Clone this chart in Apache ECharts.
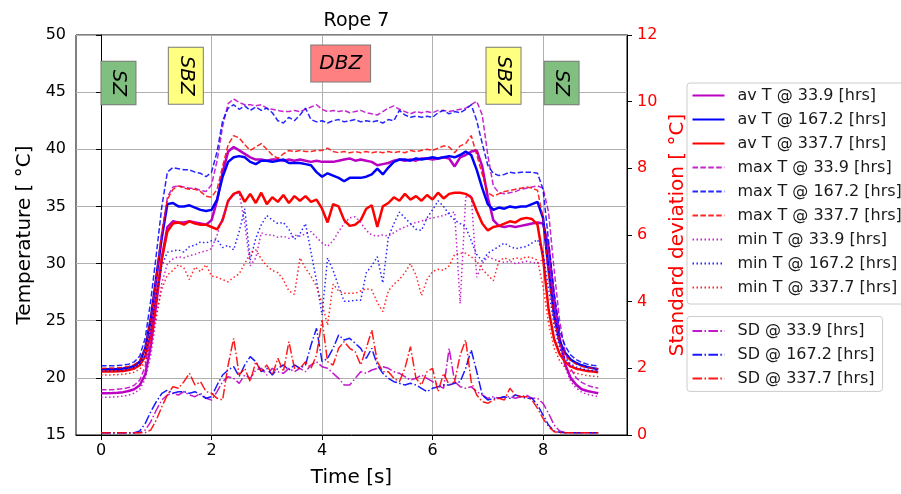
<!DOCTYPE html>
<html><head><meta charset="utf-8">
<script src="https://cdn.jsdelivr.net/npm/echarts@6/dist/echarts.min.js"></script>
<style>html,body{margin:0;padding:0;background:#fff}#c{width:901px;height:494px}</style>
</head><body><div id="c"></div>
<script>
// ---- data ----
const time = [0.0,0.1,0.2,0.3,0.4,0.5,0.6,0.7,0.8,0.9,
1.0,1.1,1.2,1.3,1.4,1.5,1.6,1.7,1.8,1.9,
2.0,2.1,2.2,2.3,2.4,2.5,2.6,2.7,2.8,2.9,
3.0,3.1,3.2,3.3,3.4,3.5,3.6,3.7,3.8,3.9,
4.0,4.1,4.2,4.3,4.4,4.5,4.6,4.7,4.8,4.9,
5.0,5.1,5.2,5.3,5.4,5.5,5.6,5.7,5.8,5.9,
6.0,6.1,6.2,6.3,6.4,6.5,6.6,6.7,6.8,6.9,
7.0,7.1,7.2,7.3,7.4,7.5,7.6,7.7,7.8,7.9,
8.0,8.1,8.2,8.3,8.4,8.5,8.6,8.7,8.8,8.9,
9.0];
const xTicks = [0,2,4,6,8];

const avM = [18.65,18.65,18.67,18.7,18.75,18.85,19.0,19.35,20.3,22.8,
26.5,30.5,33.2,33.7,33.6,33.6,33.7,33.6,33.5,33.4,
33.8,35.5,38.0,39.8,40.2,39.9,39.6,39.3,39.1,39.1,
39.0,39.1,39.1,39.0,39.1,39.0,39.1,39.0,38.9,39.0,
38.9,38.9,38.9,39.0,39.1,39.2,39.0,39.1,39.0,38.9,
38.6,38.7,38.8,39.0,39.1,39.0,39.1,39.0,39.2,39.2,
39.1,39.2,39.3,39.2,38.5,39.3,39.5,39.8,39.9,38.5,
35.8,33.8,33.3,33.2,33.3,33.2,33.3,33.4,33.5,33.6,
33.5,31.5,27.0,23.5,21.2,20.0,19.4,19.0,18.85,18.75,
18.65];
const avB = [20.75,20.75,20.76,20.78,20.82,20.9,21.05,21.4,22.6,25.2,
28.8,32.3,35.2,35.3,35.0,35.0,35.1,34.9,34.7,34.6,
34.7,35.6,37.6,38.9,39.3,39.4,39.3,38.9,38.7,39.0,
39.0,38.9,39.0,39.1,38.8,38.8,38.8,38.7,38.6,38.0,
37.6,37.9,37.7,37.5,37.2,37.5,37.5,37.5,37.6,37.8,
38.3,37.8,38.4,38.9,39.1,39.1,39.0,39.2,39.1,39.2,
39.3,39.2,39.3,39.4,39.3,39.5,39.8,39.5,38.2,36.6,
35.2,34.7,34.9,34.8,35.0,34.9,35.0,35.0,35.2,35.4,
34.0,29.5,25.5,23.2,22.2,21.6,21.3,21.1,20.95,20.85,
20.75];
const avR = [20.55,20.55,20.56,20.58,20.6,20.68,20.82,21.1,21.9,23.8,
27.0,30.4,32.8,33.5,33.6,33.4,33.7,33.5,33.4,33.4,
33.2,33.0,33.8,35.5,36.1,36.3,35.4,36.1,35.3,36.2,
35.2,35.8,35.4,36.0,35.3,35.9,35.5,35.9,35.4,35.6,
34.8,33.6,35.2,35.0,33.8,33.3,33.4,33.8,34.8,35.1,
33.2,35.0,35.3,35.8,35.5,36.1,35.6,35.9,35.5,36.0,
35.6,36.2,35.7,36.1,36.2,36.2,36.1,35.8,34.6,33.5,
32.9,33.2,33.3,33.5,33.7,33.6,33.9,34.0,33.9,33.4,
30.5,26.0,23.4,22.1,21.4,21.0,20.8,20.7,20.6,20.55,
20.5];
const mxM = [18.95,18.95,18.97,19.0,19.05,19.15,19.35,19.8,21.0,24.0,
28.2,32.5,35.8,36.7,36.8,36.7,36.6,36.6,36.4,36.3,
36.9,39.0,42.0,44.0,44.4,44.1,43.9,43.9,43.8,43.9,
43.6,43.5,43.4,43.3,43.3,43.4,43.3,43.5,43.7,43.9,
43.5,43.3,43.4,43.3,43.4,43.2,43.3,43.4,43.2,43.1,
43.0,43.3,43.6,43.8,43.5,43.3,43.1,43.3,43.2,43.3,
43.2,43.4,43.4,43.3,43.4,43.5,43.6,43.9,44.2,43.0,
39.5,36.8,36.2,36.1,36.2,36.3,36.5,36.6,36.7,36.8,
36.6,34.5,29.5,25.0,22.3,20.8,20.0,19.6,19.35,19.2,
19.1];
const mxB = [21.05,21.05,21.06,21.08,21.12,21.2,21.4,21.9,23.5,26.8,
30.8,35.0,38.0,38.4,38.3,38.2,38.2,38.0,37.9,37.6,
38.0,39.8,42.5,43.6,43.9,43.5,43.8,43.4,43.7,43.4,
43.6,43.2,42.5,42.3,42.8,42.5,43.0,43.6,42.6,42.4,
42.5,42.3,42.5,42.6,42.4,42.5,42.6,42.4,42.5,42.4,
42.5,42.3,42.6,42.5,43.4,43.0,42.8,42.9,42.8,42.9,
42.8,43.2,43.4,43.1,43.3,43.2,43.5,43.9,42.5,40.5,
38.6,37.9,37.7,37.8,38.0,37.9,38.0,38.0,38.0,37.9,
36.5,32.0,27.5,24.2,22.8,22.0,21.6,21.35,21.2,21.1,
21.05];
const mxR = [20.85,20.85,20.86,20.88,20.92,21.0,21.15,21.5,22.6,25.3,
29.0,32.8,35.6,36.5,36.8,36.6,36.5,36.5,36.3,35.9,
35.8,36.5,38.5,40.4,41.2,41.0,40.4,39.9,40.2,40.5,
40.0,39.5,39.2,39.6,39.9,39.8,39.9,39.8,39.8,39.9,
39.9,40.1,39.8,39.7,39.8,39.7,39.8,39.7,39.8,39.7,
39.8,39.7,39.8,39.7,39.8,39.7,39.9,39.8,39.9,40.0,
39.9,40.1,40.3,40.2,39.7,40.3,40.5,41.2,39.5,37.8,
36.2,35.9,36.1,36.3,36.4,36.5,36.6,36.7,36.6,36.4,
34.0,29.0,25.2,23.0,22.0,21.5,21.2,21.0,20.9,20.85,
20.8];
const mnM = [18.3,18.3,18.32,18.35,18.4,18.5,18.65,19.0,19.9,22.0,
25.2,28.3,30.0,30.4,30.6,30.5,30.7,30.8,31.0,31.1,
31.3,32.5,34.0,35.4,36.0,36.2,33.5,29.8,30.5,32.7,
32.5,32.5,32.3,32.4,32.2,32.5,32.4,32.6,32.8,32.3,
31.8,31.5,32.0,32.8,33.5,34.0,34.1,33.6,32.9,32.5,
32.4,32.5,32.4,32.7,33.0,33.2,33.4,33.6,33.7,33.9,
34.0,34.1,34.2,34.4,34.5,26.5,35.8,36.0,28.8,30.0,
30.6,30.4,30.2,30.1,30.2,30.0,30.1,30.2,30.1,30.0,
30.4,29.8,26.5,23.0,20.9,19.7,19.1,18.75,18.55,18.45,
18.35];
const mnB = [20.6,20.6,20.61,20.63,20.67,20.75,20.9,21.2,22.0,24.3,
27.3,29.8,31.0,31.1,31.2,31.0,31.5,31.6,31.9,31.8,
32.0,32.1,31.4,31.6,31.2,32.8,34.8,30.3,32.2,33.4,
34.2,33.8,33.5,33.6,33.0,32.1,32.6,33.5,31.0,28.5,
25.5,30.5,29.4,28.0,26.7,26.7,26.8,26.8,29.2,29.8,
30.6,28.3,32.3,33.5,34.5,34.0,33.5,33.0,32.9,34.0,
34.7,35.5,35.0,34.3,33.8,33.5,33.2,32.0,30.8,30.2,
30.9,31.2,31.5,31.8,31.5,31.3,31.4,31.5,31.8,32.1,
31.0,27.8,24.6,22.6,21.7,21.2,20.95,20.8,20.7,20.65,
20.6];
const mnR = [20.25,20.25,20.26,20.28,20.31,20.38,20.5,20.75,21.4,23.0,
25.5,27.8,29.0,29.4,29.9,29.6,28.6,29.7,29.3,29.9,
28.9,28.8,28.6,28.4,28.8,29.1,30.0,30.9,31.2,30.4,
29.8,29.4,29.2,28.6,27.6,27.3,30.5,29.6,28.9,28.0,
26.5,24.6,28.2,27.6,27.4,27.4,27.4,27.6,27.8,27.7,
26.6,25.8,27.6,28.2,28.6,29.2,30.0,29.0,27.2,28.6,
29.3,29.5,29.4,29.8,30.8,30.9,30.9,30.6,30.2,29.5,
29.0,28.5,30.2,30.5,30.3,30.5,30.4,30.6,30.5,30.3,
28.0,24.8,22.6,21.5,20.9,20.6,20.4,20.3,20.2,20.15,
20.1];
const sdM = [0.07,0.07,0.07,0.07,0.07,0.07,0.07,0.07,0.15,0.4,
0.75,1.05,1.2,1.25,1.2,1.3,1.2,1.15,1.25,1.1,
1.05,1.3,1.6,1.75,1.7,1.55,1.8,1.7,1.95,2.0,
1.8,2.0,1.9,1.85,2.0,1.9,2.0,1.9,2.1,2.2,
2.05,2.0,1.85,1.7,1.5,1.5,1.7,1.9,1.85,1.95,
2.0,2.05,2.0,1.9,1.85,1.75,1.65,1.7,1.8,1.7,
1.6,1.5,1.4,2.6,1.6,1.45,1.4,1.45,1.3,1.2,
1.1,1.15,1.1,1.15,1.15,1.1,1.15,1.2,1.1,1.1,
0.95,0.65,0.3,0.12,0.07,0.07,0.07,0.07,0.07,0.07,
0.07];
const sdB = [0.07,0.07,0.07,0.07,0.07,0.07,0.07,0.12,0.35,0.7,
1.0,1.25,1.35,1.25,1.3,1.3,1.25,1.3,1.2,1.1,
1.15,1.5,1.8,1.95,2.05,1.75,2.1,2.35,2.2,1.9,
2.0,1.8,2.0,2.1,1.95,2.1,2.0,2.1,2.7,3.2,
2.2,2.3,2.6,3.0,2.85,2.9,2.75,2.6,2.3,2.6,
2.1,1.85,1.7,1.6,1.55,1.5,1.55,1.5,1.4,1.3,
1.4,1.45,1.5,1.5,1.55,1.6,2.0,2.55,1.9,1.2,
1.05,1.1,1.1,1.15,1.1,1.2,1.15,1.1,1.1,0.9,
0.6,0.3,0.12,0.08,0.07,0.07,0.07,0.07,0.07,0.07,
0.07];
const sdR = [0.07,0.07,0.07,0.07,0.07,0.07,0.07,0.07,0.07,0.15,
0.45,0.85,1.2,1.45,1.4,1.6,1.85,1.5,1.6,1.3,
1.25,1.1,1.05,2.1,2.9,1.8,2.0,1.6,2.2,1.9,
2.1,1.8,2.3,1.9,2.8,2.0,2.0,2.2,2.0,2.4,
3.45,2.2,2.1,2.6,2.8,2.6,2.5,2.1,2.6,3.15,
2.2,1.9,1.9,1.7,1.6,2.0,2.65,1.7,1.5,1.9,
2.0,1.3,1.85,1.5,1.6,2.4,2.85,1.6,1.2,1.0,
0.95,1.05,1.1,1.05,1.4,1.2,1.15,1.15,1.05,0.8,
0.5,0.25,0.1,0.07,0.07,0.07,0.07,0.07,0.07,0.07,
0.07];

const zones = [
  {text:'SZ',  t:0.315, T:45.8, color:'#80bf80', rot:true},
  {text:'SBZ', t:1.534, T:46.44, color:'#ffff80', rot:true},
  {text:'DBZ', t:4.337, T:47.5, color:'#ff8080', rot:false},
  {text:'SBZ', t:7.285, T:46.44, color:'#ffff80', rot:true},
  {text:'SZ',  t:8.336, T:45.8, color:'#80bf80', rot:true}
];

// ---- chart ----
const MAG = '#bb00c4', BLU = '#0000ff', RED = '#ff0000';
const FF = 'DejaVu Sans';
const DASH = [5.5, 2.4], DOT = [1.5, 2.5], DASHDOT = [9.6, 2.4, 1.5, 2.4];

function mk(name, vals, color, width, type, yIdx, op) {
  return {
    name: name, type: 'line', yAxisIndex: yIdx, symbol: 'none', showSymbol: false,
    data: time.map((t, i) => [t, vals[i]]),
    lineStyle: {color: color, width: width, type: type, opacity: op},
    itemStyle: {color: color},
    emphasis: {disabled: true}, animation: false, z: 3
  };
}
const series = [
  mk('av T @ 33.9 [hrs]', avM, MAG, 2.5, 'solid', 0, 1),
  mk('av T @ 167.2 [hrs]', avB, BLU, 2.5, 'solid', 0, 1),
  mk('av T @ 337.7 [hrs]', avR, RED, 2.5, 'solid', 0, 1),
  mk('max T @ 33.9 [hrs]', mxM, MAG, 1.5, DASH, 0, 0.85),
  mk('max T @ 167.2 [hrs]', mxB, BLU, 1.5, DASH, 0, 0.85),
  mk('max T @ 337.7 [hrs]', mxR, RED, 1.5, DASH, 0, 0.85),
  mk('min T @ 33.9 [hrs]', mnM, MAG, 1.5, DOT, 0, 0.85),
  mk('min T @ 167.2 [hrs]', mnB, BLU, 1.5, DOT, 0, 0.85),
  mk('min T @ 337.7 [hrs]', mnR, RED, 1.5, DOT, 0, 0.85),
  mk('SD @ 33.9 [hrs]', sdM, MAG, 1.5, DASHDOT, 1, 0.9),
  mk('SD @ 167.2 [hrs]', sdB, BLU, 1.5, DASHDOT, 1, 0.9),
  mk('SD @ 337.7 [hrs]', sdR, RED, 1.5, DASHDOT, 1, 0.9)
];
const names = series.map(s => s.name);

const legendCommon = {
  orient: 'vertical', itemWidth: 32, itemHeight: 16,
  backgroundColor: '#fff', borderColor: '#cccccc', borderWidth: 1, borderRadius: 3,
  textStyle: {fontFamily: FF, fontSize: 16, color: '#1a1a1a', padding: [0, 0, 0, 8]},
  itemStyle: {opacity: 0, borderWidth: 0},
  selectedMode: false
};

const chart = echarts.init(document.getElementById('c'), null, {renderer: 'canvas'});
const option = {
  backgroundColor: '#fff',
  animation: false,
  title: {text: 'Rope 7', left: 351.5, top: 7, textAlign: 'center',
    textStyle: {fontFamily: FF, fontSize: 19, fontWeight: 'normal', color: '#000'}},
  grid: {left: 76, right: 274, top: 35, bottom: 59, show: true, borderColor: '#000', borderWidth: 1, containLabel: false},
  legend: [
    Object.assign({}, legendCommon, {data: names.slice(0, 9), left: 687, top: 83, itemGap: 8, padding: [4.5, 8, 8.5, 4.5]}),
    Object.assign({}, legendCommon, {data: names.slice(9), left: 687, top: 316.5, itemGap: 7.7, padding: [6.5, 8, 5, 4.5]})
  ],
  xAxis: {
    type: 'value', min: -0.454, max: 9.52,
    name: 'Time [s]', nameLocation: 'middle', nameGap: 33,
    nameTextStyle: {fontFamily: FF, fontSize: 20, color: '#000'},
    axisLine: {show: true, onZero: false, lineStyle: {color: '#000', width: 1}},
    axisTick: {show: true, length: 5, lineStyle: {color: '#000'}, customValues: xTicks},
    axisLabel: {fontFamily: FF, fontSize: 16, color: '#000', margin: 8, customValues: xTicks},
    splitLine: {show: true, lineStyle: {color: '#b0b0b0', width: 1}}
  },
  yAxis: [
    {type: 'value', min: 15, max: 50, interval: 5, position: 'left',
      name: 'Temperature [ °C]', nameLocation: 'middle', nameGap: 41, nameRotate: 90,
      nameTextStyle: {fontFamily: FF, fontSize: 20, color: '#000'},
      axisLine: {show: true, lineStyle: {color: '#000', width: 1}},
      axisTick: {show: true, length: 5, lineStyle: {color: '#000'}},
      axisLabel: {fontFamily: FF, fontSize: 16, color: '#000', margin: 10},
      splitLine: {show: true, lineStyle: {color: '#b0b0b0', width: 1}}},
    {type: 'value', min: 0, max: 12, interval: 2, position: 'right',
      name: 'Standard deviation [ °C]', nameLocation: 'middle', nameGap: 36, nameRotate: 90,
      nameTextStyle: {fontFamily: FF, fontSize: 20, color: RED},
      axisLine: {show: true, lineStyle: {color: '#000', width: 1}},
      axisTick: {show: true, length: 5, lineStyle: {color: '#000'}},
      axisLabel: {fontFamily: FF, fontSize: 16, color: RED, margin: 10},
      splitLine: {show: false}}
  ],
  series: series
};
chart.setOption(option);

// zone labels placed via data coordinates
const graphics = zones.map(z => {
  const p = chart.convertToPixel({xAxisIndex: 0, yAxisIndex: 0}, [z.t, z.T]);
  return {
    type: 'text', x: p[0], y: p[1], rotation: z.rot ? -Math.PI / 2 : 0, z: 10,
    style: {
      text: z.text, fontFamily: FF, fontStyle: 'italic', fontSize: 20, fill: '#000',
      align: 'center', verticalAlign: 'middle',
      backgroundColor: z.color, borderColor: '#7a7a7a', borderWidth: 1,
      padding: z.rot ? [7, 8, 7, 8] : [8, 8, 8, 8]
    }
  };
});
chart.setOption({graphic: graphics});
</script>
</body></html>
